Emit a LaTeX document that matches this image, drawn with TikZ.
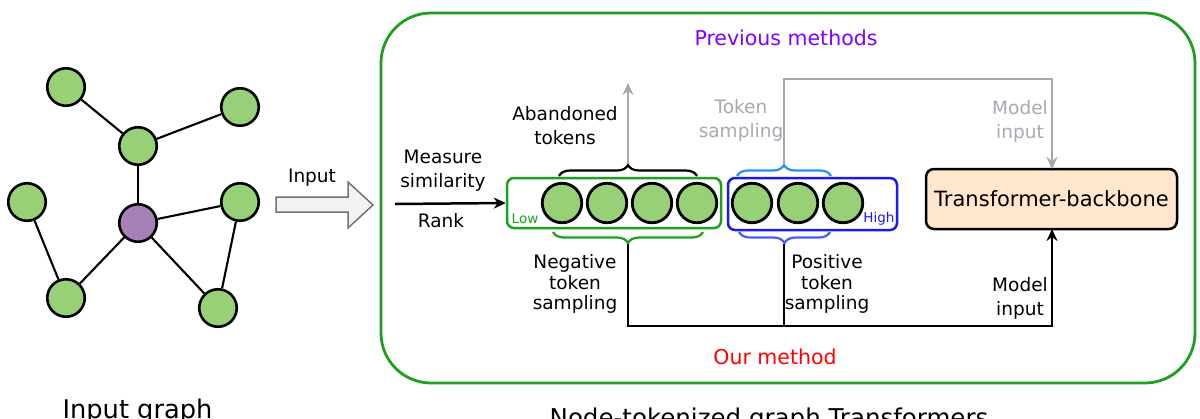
\documentclass[tikz,border=0pt]{standalone}
\usepackage{fontspec}
\setmainfont{DejaVu Sans}
\usetikzlibrary{arrows.meta,decorations.pathreplacing,calc}
\definecolor{nodegreen}{HTML}{97D077}
\definecolor{nodepurple}{HTML}{A680B8}
\definecolor{boxgreen}{RGB}{30,160,30}
\definecolor{boxblue}{RGB}{25,25,240}
\definecolor{braceblue}{RGB}{40,140,255}
\definecolor{lbraceblue}{RGB}{70,90,255}
\definecolor{tgray}{RGB}{168,168,178}
\definecolor{peach}{HTML}{FFE6CC}
\definecolor{myviolet}{RGB}{127,0,255}
\definecolor{arrowfill}{HTML}{F2F2F2}
\begin{document}
\begin{tikzpicture}[x=1pt,y=-1pt,
  gnode/.style={circle,draw=black,line width=2.6pt,fill=nodegreen,minimum size=37.5pt,inner sep=0pt},
  tok/.style={circle,draw=black,line width=2.8pt,fill=nodegreen,minimum size=39.5pt,inner sep=0pt},
  gedge/.style={line width=2.1pt},
  lbl/.style={font=\fontsize{18.5}{24}\selectfont,align=center,inner sep=0pt},
  lbl3/.style={font=\fontsize{18.5}{20.5}\selectfont,align=center,inner sep=0pt},
  big/.style={font=\fontsize{20.5}{24}\selectfont,inner sep=0pt},
  conn/.style={line width=2.5pt,draw=black},
  gconn/.style={line width=2.5pt,draw=tgray},
  tip/.style={-{Stealth[length=12pt,width=11pt]}},
  bracedec/.style={decorate,decoration={brace,amplitude=11pt},line width=2.2pt},
]
\useasboundingbox (0,0) rectangle (1200,418);
\clip (0,0) rectangle (1200,418);

% ---- input graph ----
\node[gnode] (a) at (66,87) {};
\node[gnode] (b) at (240,107) {};
\node[gnode] (c) at (138,146) {};
\node[gnode] (d) at (27,202) {};
\node[gnode,fill=nodepurple] (e) at (138,223) {};
\node[gnode] (f) at (240,202) {};
\node[gnode] (g) at (66,298) {};
\node[gnode] (h) at (218,308) {};
\draw[gedge] (a) -- (c);
\draw[gedge] (b) -- (c);
\draw[gedge] (c) -- (e);
\draw[gedge] (e) -- (f);
\draw[gedge] (e) -- (g);
\draw[gedge] (e) -- (h);
\draw[gedge] (d) -- (g);
\draw[gedge] (f) -- (h);

% ---- block arrow ----
\draw[draw=gray!90!black,fill=arrowfill,line width=1.5pt]
  (276,197) -- (348,197) -- (348,182) -- (373,205) -- (348,228) -- (348,212) -- (276,212) -- cycle;
\node[lbl] (inlbl) at (312,178) {Input};

% ---- big box ----
\draw[boxgreen,line width=2.8pt,rounded corners=50pt] (381,13) rectangle (1195,383);
\node[big,text=myviolet] (prev) at (786,38) {Previous methods};
\node[big,text=red] (ours) at (775,357) {Our method};

% ---- measure ----
\node[lbl] (meas) at (443,171) {Measure\\similarity};
\node[lbl] (rank) at (441,221) {Rank};
\coordinate (mstart) at (395,204);

% ---- token boxes ----
\node[draw=boxgreen,line width=2.5pt,rounded corners=7pt,minimum width=214pt,minimum height=50pt,inner sep=0pt] (lowbox) at (614,203) {};
\node[draw=boxblue,line width=2.5pt,rounded corners=7pt,minimum width=169pt,minimum height=52pt,inner sep=0pt] (highbox) at (812.5,204) {};
\node[tok] (t1) at (562,203) {};
\node[tok] (t2) at (607,203) {};
\node[tok] (t3) at (652,203) {};
\node[tok] (t4) at (697,203) {};
\node[tok] (t5) at (752,203) {};
\node[tok] (t6) at (798,203) {};
\node[tok] (t7) at (843,203) {};
\node[font=\fontsize{13.5}{15}\selectfont,text=boxgreen,inner sep=0pt] (low) at (525,219) {Low};
\node[font=\fontsize{13.5}{15}\selectfont,text=boxblue,inner sep=0pt] (high) at (879,219) {High};

\draw[conn,tip] (mstart) -- (lowbox.west);

% ---- braces ----
\draw[bracedec,draw=black] (559,176) -- (697,176);
\draw[bracedec,draw=braceblue] (737,176) -- (831,176);
\draw[bracedec,draw=boxgreen] (703,232) -- (553,232);
\draw[bracedec,draw=lbraceblue] (830,232) -- (739,232);
\coordinate (abtip) at (628,164);
\coordinate (abend) at (628,83);
\coordinate (tstip) at (784,164);
\coordinate (negtip) at (628,244);
\coordinate (postip) at (784,244);

% ---- transformer ----
\node[draw=black,line width=2.5pt,fill=peach,rounded corners=8pt,minimum width=251pt,minimum height=60pt,inner sep=0pt,font=\fontsize{21}{24}\selectfont] (tb) at (1051.5,199) {Transformer-backbone};

% ---- previous method connectors ----
\draw[gconn,tip] (abtip) -- (abend);
\node[lbl] (aband) at (565,125.5) {Abandoned\\tokens};
\draw[gconn,tip] (tstip) -- (784,79) -- (1052,79) -- (1052,169);
\node[lbl,text=tgray] (tsamp) at (741,120.5) {Token\\sampling};
\node[lbl,text=tgray] (minp1) at (1020,121.5) {Model\\input};

% ---- our method connectors ----
\draw[conn] (postip) -- (784,326);
\draw[conn,tip] (negtip) -- (628,326) -- (1052,326) -- (1052,229);
\node[lbl3] (neg) at (575,284) {Negative\\token\\sampling};
\node[lbl3] (pos) at (827,284) {Positive\\token\\sampling};
\node[lbl] (minp2) at (1020,298.5) {Model\\input};

% ---- captions ----
\node[font=\fontsize{25.7}{30}\selectfont,anchor=base,inner sep=0pt] (cap1) at (137.5,418) {Input graph};
\node[font=\fontsize{24.5}{30}\selectfont,anchor=base,inner sep=0pt] (cap2) at (769,426) {Node-tokenized graph Transformers};
\end{tikzpicture}
\end{document}
